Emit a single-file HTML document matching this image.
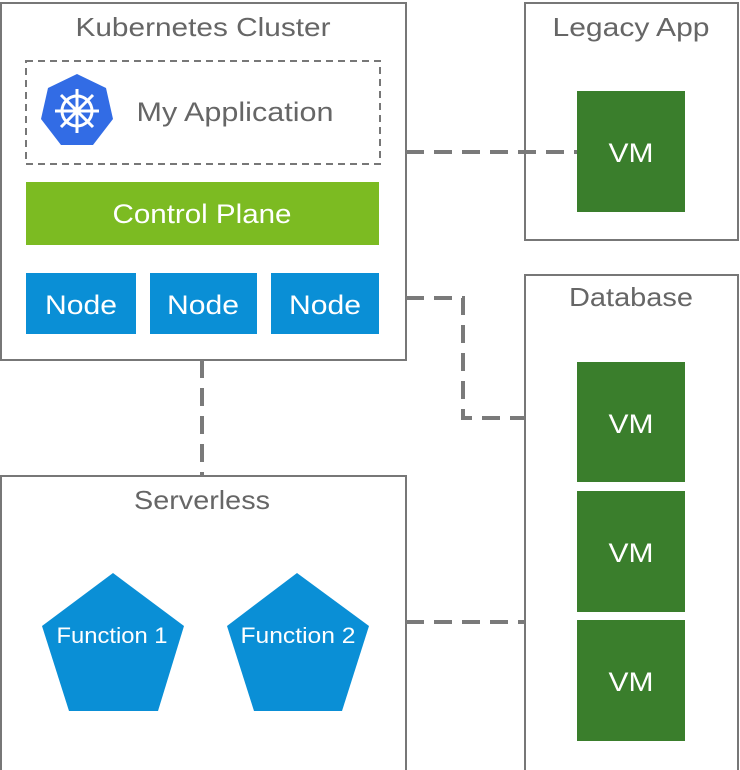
<!DOCTYPE html>
<html><head><meta charset="utf-8"><style>
html,body{margin:0;padding:0;background:#fff;}
svg{display:block;font-family:"Liberation Sans",sans-serif;}
</style></head><body>
<svg width="740" height="770" viewBox="0 0 740 770" xmlns="http://www.w3.org/2000/svg">
<g fill="#fff" stroke="#777" stroke-width="2">
<rect x="1" y="3" width="405" height="357"/>
<rect x="525" y="3" width="213" height="237"/>
<rect x="525" y="275" width="213" height="500"/>
<rect x="1" y="476" width="405" height="300"/>
</g>
<g fill="none" stroke="#7a7a7a" stroke-width="4" stroke-dasharray="18,10">
<path d="M406 152 H577"/>
<path d="M406 298 H463 V418 H525"/>
<path d="M202 360 V476"/>
<path d="M406 622 H525"/>
</g>
<rect x="26" y="61" width="354" height="103" fill="none" stroke="#777" stroke-width="2" stroke-dasharray="7,5"/>
<g fill="#666" font-size="26" text-anchor="middle" lengthAdjust="spacingAndGlyphs">
<text x="203" y="36" textLength="255" lengthAdjust="spacingAndGlyphs">Kubernetes Cluster</text>
<text x="631" y="36" textLength="157" lengthAdjust="spacingAndGlyphs">Legacy App</text>
<text x="631" y="306" textLength="124" lengthAdjust="spacingAndGlyphs">Database</text>
<text x="202" y="509" textLength="136" lengthAdjust="spacingAndGlyphs">Serverless</text>
<text x="235" y="121" font-size="27" textLength="197" lengthAdjust="spacingAndGlyphs">My Application</text>
</g>
<polygon points="77,74 106,88 113,119 93,145 61,145 41,119 48,88" fill="#326ce5"/>
<g stroke="#fff" stroke-width="3" fill="none">
<circle cx="77" cy="111" r="15"/>
<path d="M77 89V133M55 111H99M61 95L93 127M93 95L61 127"/>
</g>
<circle cx="77" cy="111" r="4" fill="#fff"/>
<rect x="26" y="182" width="353" height="63" fill="#7cbb22"/>
<rect x="26" y="273" width="110" height="61" fill="#0a8fd6"/>
<rect x="150" y="273" width="107" height="61" fill="#0a8fd6"/>
<rect x="271" y="273" width="108" height="61" fill="#0a8fd6"/>
<g fill="#3a7e2c">
<rect x="577" y="91" width="108" height="121"/>
<rect x="577" y="362" width="108" height="120"/>
<rect x="577" y="491" width="108" height="121"/>
<rect x="577" y="620" width="108" height="121"/>
</g>
<polygon points="113,573 184,626 158,711 69,711 42,626" fill="#0a8fd6"/>
<polygon points="297,573 369,626 342,711 254,711 227,626" fill="#0a8fd6"/>
<g fill="#fff" text-anchor="middle" font-size="27">
<text x="202" y="223" textLength="179" lengthAdjust="spacingAndGlyphs">Control Plane</text>
<text x="81" y="314" textLength="72" lengthAdjust="spacingAndGlyphs">Node</text>
<text x="203" y="314" textLength="72" lengthAdjust="spacingAndGlyphs">Node</text>
<text x="325" y="314" textLength="72" lengthAdjust="spacingAndGlyphs">Node</text>
<text x="631" y="162" textLength="45" lengthAdjust="spacingAndGlyphs">VM</text>
<text x="631" y="433" textLength="45" lengthAdjust="spacingAndGlyphs">VM</text>
<text x="631" y="562" textLength="45" lengthAdjust="spacingAndGlyphs">VM</text>
<text x="631" y="691" textLength="45" lengthAdjust="spacingAndGlyphs">VM</text>
<text x="112" y="643" font-size="22" textLength="111" lengthAdjust="spacingAndGlyphs">Function 1</text>
<text x="298" y="643" font-size="22" textLength="115" lengthAdjust="spacingAndGlyphs">Function 2</text>
</g>
</svg>
</body></html>
